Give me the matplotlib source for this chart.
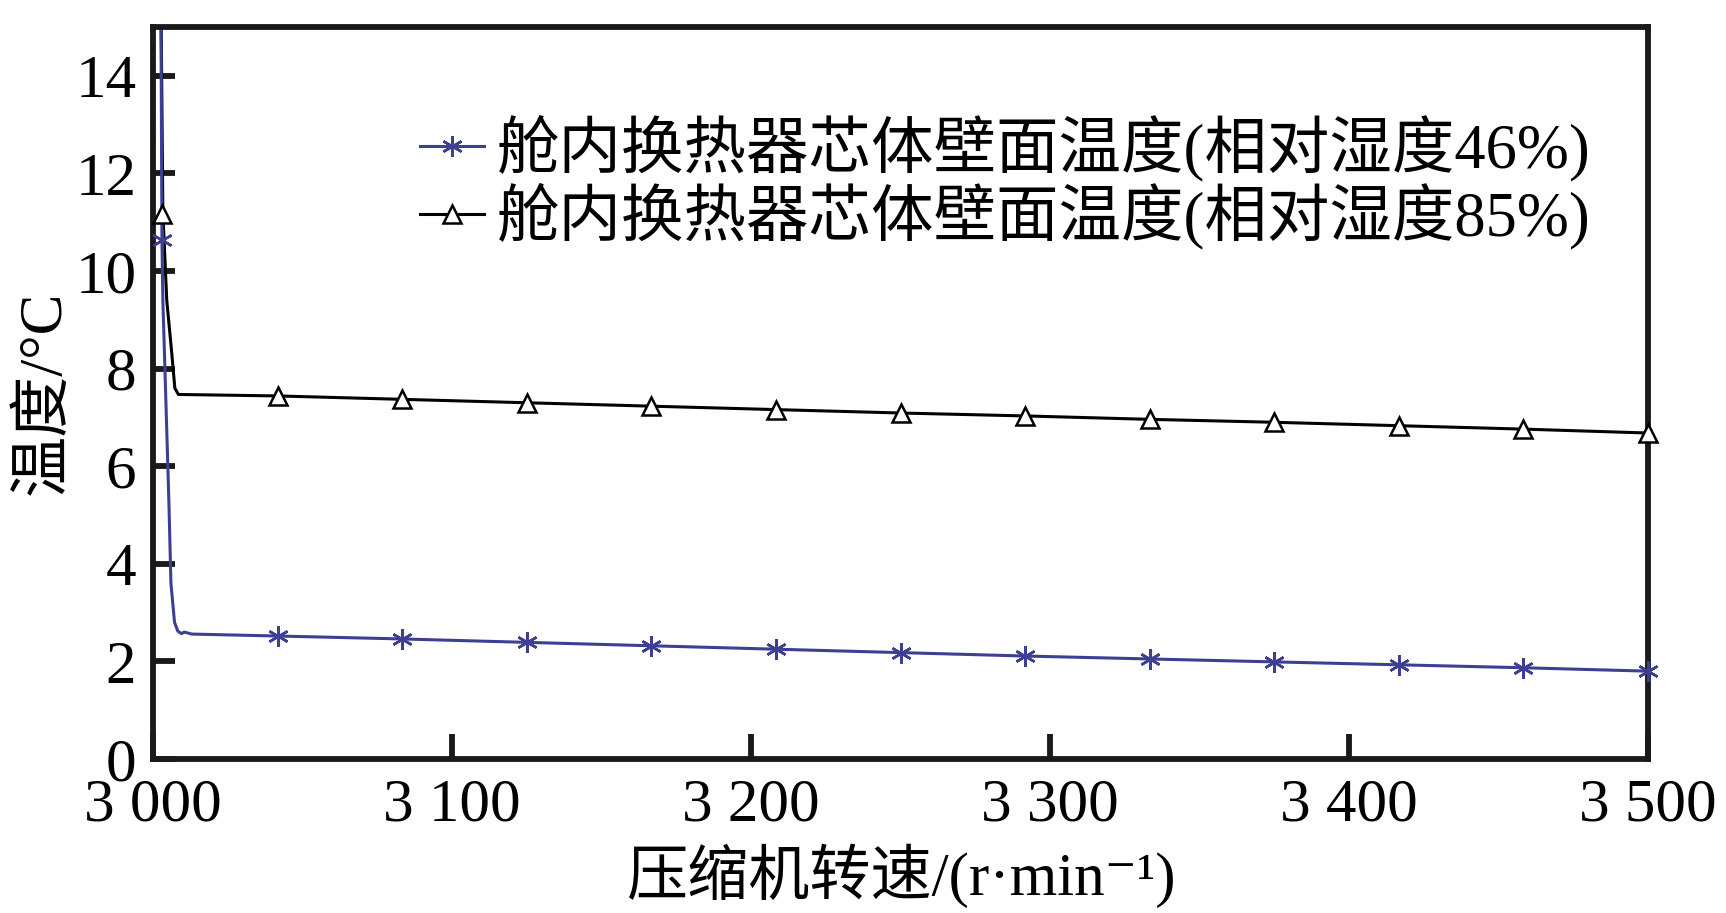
import matplotlib
matplotlib.use("Agg")
import matplotlib.pyplot as plt
from matplotlib.lines import Line2D

FAM = ['Liberation Serif', 'Noto Sans CJK SC', 'DejaVu Serif']
plt.rcParams['font.family'] = FAM

# --- data ---
speed_ticks = [3000, 3100, 3200, 3300, 3400, 3500]
speed_tick_labels = ["3 000", "3 100", "3 200", "3 300", "3 400", "3 500"]
temp_ticks = [0, 2, 4, 6, 8, 10, 12, 14]

# marker positions (compressor speed, r/min)
marker_speed = [3003.0, 3041.7, 3083.3, 3125.0, 3166.7, 3208.3, 3250.0,
                3291.7, 3333.3, 3375.0, 3416.7, 3458.3, 3500.0]
rh46_marker = [10.63, 2.52, 2.46, 2.39, 2.32, 2.25, 2.18,
               2.11, 2.05, 1.99, 1.93, 1.87, 1.80]
rh85_marker = [11.16, 7.44, 7.37, 7.30, 7.23, 7.16, 7.09,
               7.03, 6.96, 6.90, 6.83, 6.76, 6.68]

# initial transient part of the curves
rh46_start_speed = [3002.6, 3003.0, 3003.3, 3005.3, 3006.0, 3007.2, 3008.3, 3009.5, 3010.5, 3013.0]
rh46_start_temp = [16.0, 10.6, 9.4, 5.3, 3.6, 2.8, 2.62, 2.57, 2.60, 2.56]
rh85_start_speed = [3002.6, 3003.3, 3004.6, 3006.3, 3007.3, 3008.5]
rh85_start_temp = [16.0, 11.2, 9.4, 8.3, 7.6, 7.47]

labels = ["舱内换热器芯体壁面温度(相对湿度46%)", "舱内换热器芯体壁面温度(相对湿度85%)"]
blue = "#3d3f92"

fig = plt.figure(figsize=(17.26, 9.13), dpi=100)
ax = fig.add_axes([153/1726, 1-759/913, (1648-153)/1726, (759-27)/913])

x46 = rh46_start_speed + marker_speed[1:]
y46 = rh46_start_temp + rh46_marker[1:]
x85 = rh85_start_speed + marker_speed[1:]
y85 = rh85_start_temp + rh85_marker[1:]

ax.plot(x85, y85, color="black", lw=2.2)
ax.plot(x46, y46, color=blue, lw=2.2)
ax.plot(marker_speed, rh85_marker, ls="none", marker="^", ms=13, mfc="white",
        mec="black", mew=1.8, clip_on=False, zorder=4)
ax.plot(marker_speed, rh46_marker, ls="none", marker=(6, 2, 0), ms=15,
        mec=blue, mew=1.8, clip_on=False, zorder=4)

ax.set_xlim(3000, 3500)
ax.set_ylim(0, 15)
ax.set_xticks(speed_ticks)
ax.set_xticklabels(speed_tick_labels)
ax.set_yticks(temp_ticks)

for s in ax.spines.values():
    s.set_linewidth(4.2)
    s.set_color("#1a1a1a")

ax.tick_params(axis="x", direction="in", length=18, width=4.2, labelsize=44, pad=14,
               color="#1a1a1a")
ax.tick_params(axis="y", direction="in", length=16, width=4.2, labelsize=44, pad=12,
               color="#1a1a1a")

ax.set_xlabel("压缩机转速/(r·min⁻¹)", fontsize=44, labelpad=7, family=FAM)
ax.set_ylabel("温度/°C", fontsize=44, labelpad=2, family=FAM)

handles = [
    Line2D([], [], color=blue, lw=2.2, marker=(6, 2, 0), ms=15, mec=blue, mew=1.8),
    Line2D([], [], color="black", lw=2.2, marker="^", ms=13, mfc="white", mec="black", mew=1.8),
]
leg = ax.legend(handles, labels, loc="upper left",
                bbox_to_anchor=(420/1726, 1-115/913), bbox_transform=fig.transFigure,
                frameon=False, fontsize=45, borderpad=0, borderaxespad=0,
                handlelength=1.03, handletextpad=0.2, labelspacing=0.02)

fig.savefig("out.png", dpi=100)
